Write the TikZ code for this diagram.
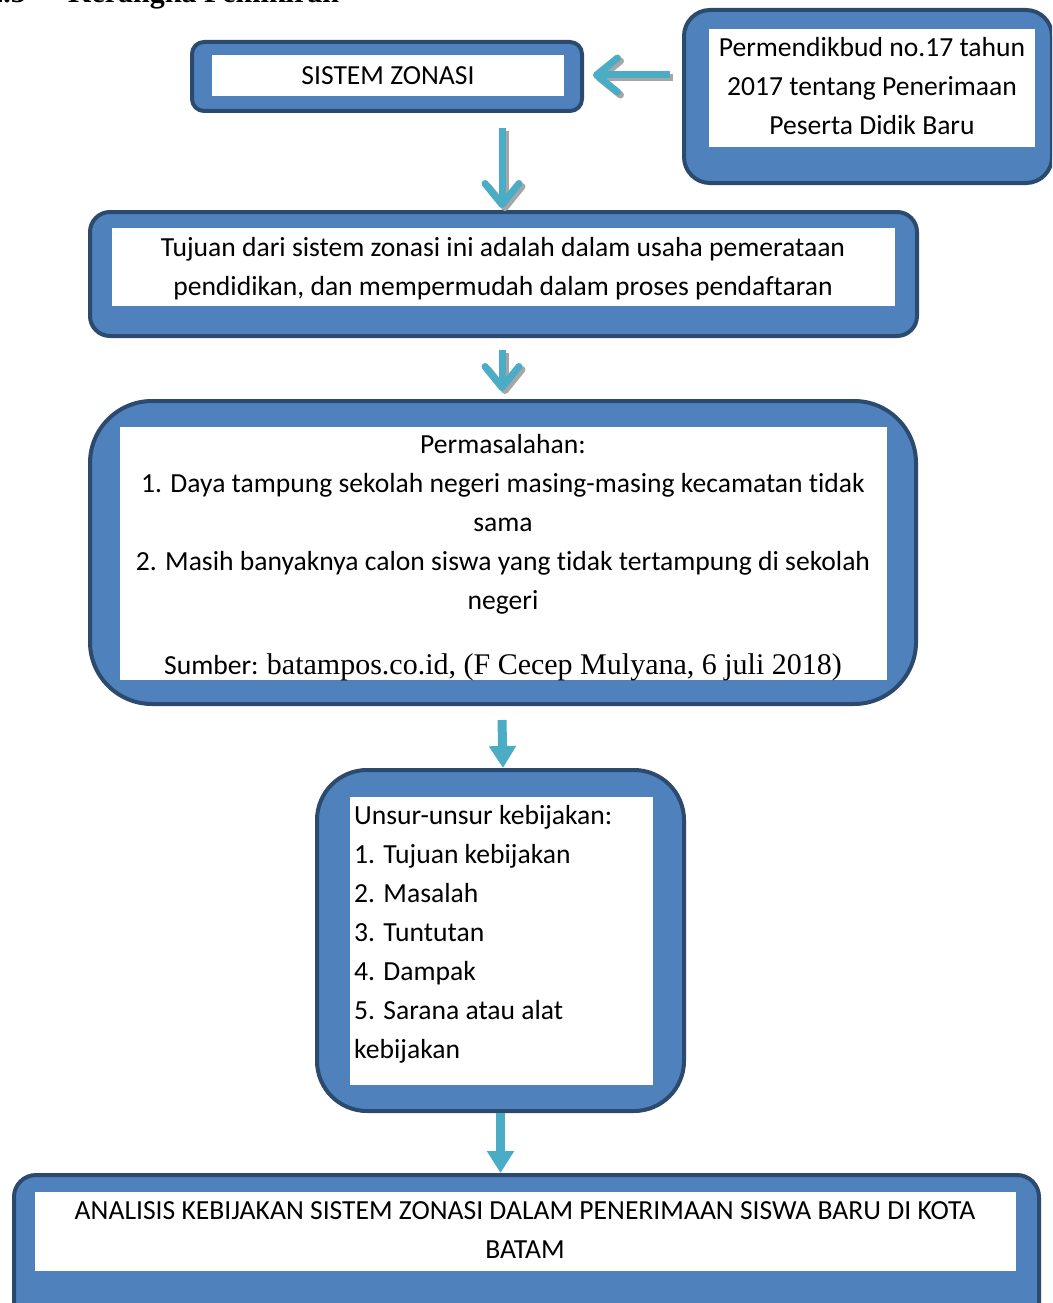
\documentclass[tikz,border=0pt]{standalone}
\usepackage{fontspec}
\setmainfont{Carlito}[Ligatures=NoCommon]
\newfontfamily\tnr{Liberation Serif}
\usetikzlibrary{arrows.meta,calc}
\definecolor{edge}{HTML}{2C4A6E}
\definecolor{boxfill}{HTML}{4F81BD}
\definecolor{arrcyan}{HTML}{4BACC6}
\definecolor{shadowgray}{HTML}{A6A6A6}
\begin{document}
\begin{tikzpicture}[x=1pt,y=-1pt,
  outerbox/.style={draw=edge,fill=boxfill,line width=4pt,inner sep=0pt},
  innerbox/.style={fill=white,inner sep=0pt},
  txt/.style={font=\fontsize{27.6}{39}\selectfont,inner sep=0pt,anchor=north,align=center},
  barb/.style={line width=7pt,-{Straight Barb[length=21pt,width=34pt,line width=7pt,round]}},
  barbcyan/.style={barb,draw=arrcyan},
  barbshadow/.style={barb,draw=shadowgray},
  trisarrow/.style={draw=arrcyan,line width=9pt,-{Triangle[length=22pt,width=26pt]},fill=arrcyan}
]
\useasboundingbox (0,0) rectangle (1052,1303);
\clip (0,0) rectangle (1052,1303);
\fill[white] (0,0) rectangle (1052,1303);

% heading (cut off at top, as in the source page)
\node[font=\fontsize{30}{36}\selectfont\tnr\bfseries,inner sep=0pt,anchor=base east] (hnum) at (26,3) {2.3};
\node[font=\fontsize{30}{36}\selectfont\tnr\bfseries,inner sep=0pt,anchor=base west] (htitle) at (68,3) {Kerangka Pemikiran};

% box 1: SISTEM ZONASI
\node[outerbox,rounded corners=12pt,minimum width=390pt,minimum height=69pt] (b1) at (387,76.5) {};
\node[innerbox,minimum width=352pt,minimum height=41pt] (b1i) at (388,75.5) {};
\node[txt] (t1) at (388,56.7) {\strut SISTEM ZONASI};

% box 2: Permendikbud
\node[outerbox,rounded corners=26pt,minimum width=368pt,minimum height=173pt] (b2) at (868,96.5) {};
\node[innerbox,minimum width=326pt,minimum height=118pt] (b2i) at (872,88) {};
\node[txt] (t2) at (872,28.7) {\strut Permendikbud no.17 tahun\\2017 tentang Penerimaan\\Peserta Didik Baru};

% box 3: Tujuan
\node[outerbox,rounded corners=20pt,minimum width=827pt,minimum height=124pt] (b3) at (503.5,274) {};
\node[innerbox,minimum width=783pt,minimum height=78pt] (b3i) at (503.5,267) {};
\node[txt] (t3) at (503,228.7) {\strut Tujuan dari sistem zonasi ini adalah dalam usaha pemerataan\\pendidikan, dan mempermudah dalam proses pendaftaran};

% box 4: Permasalahan
\node[outerbox,rounded corners=62pt,minimum width=826pt,minimum height=303pt] (b4) at (503,552.5) {};
\node[innerbox,minimum width=767pt,minimum height=253pt] (b4i) at (503.5,553.5) {};
\node[txt] (t4) at (503,425.7) {\strut Permasalahan:\\1. Daya tampung sekolah negeri masing-masing kecamatan tidak\\sama\\2. Masih banyaknya calon siswa yang tidak tertampung di sekolah\\negeri};
\node[txt] (t4s) at (503,646.7) {\strut Sumber: {\tnr\fontsize{30}{39}\selectfont batampos.co.id, (F Cecep Mulyana, 6 juli 2018)}};

% box 5: Unsur-unsur
\node[outerbox,rounded corners=50pt,minimum width=367pt,minimum height=341pt] (b5) at (500.5,940.5) {};
\node[innerbox,minimum width=303pt,minimum height=288pt] (b5i) at (501.5,941) {};
\node[txt,anchor=north west,align=left] (t5) at (354,796.7) {\strut Unsur-unsur kebijakan:\\1. Tujuan kebijakan\\2. Masalah\\3. Tuntutan\\4. Dampak\\5. Sarana atau alat\\kebijakan};

% box 6: Analisis
\node[outerbox,rounded corners=22pt,minimum width=1025pt,minimum height=150pt] (b6) at (526.5,1250) {};
\node[innerbox,minimum width=981pt,minimum height=79pt] (b6i) at (525.5,1231.5) {};
\node[txt] (t6) at (525,1191.7) {\strut ANALISIS KEBIJAKAN SISTEM ZONASI DALAM PENERIMAAN SISWA BARU DI KOTA\\BATAM};

% connectors
\coordinate (l1) at ($(b2.west |- b1.east)+(-12,-1.5)$);
\coordinate (l2) at ($(b1.east)+(9,-1.5)$);
\draw[barbshadow] ($(l1)+(3,3)$) -- ($(l2)+(3,3)$);
\draw[barbcyan] (l1) -- (l2);

\coordinate (d1s) at ($(b3.north |- b1.south)+(-1.5,15)$);
\coordinate (d1e) at ($(b3.north)+(-1.5,-2)$);
\draw[barbshadow] ($(d1s)+(3,3)$) -- ($(d1e)+(3,3)$);
\draw[barbcyan] (d1s) -- (d1e);

\coordinate (d2s) at ($(b3.south)+(-1.5,12)$);
\coordinate (d2e) at ($(b4.north)+(-1,-8)$);
\draw[barbshadow] ($(d2s)+(3,3)$) -- ($(d2e)+(3,3)$);
\draw[barbcyan] (d2s) -- (d2e);

\draw[trisarrow] ($(b4.south)+(-1,14)$) -- (b4.south |- b5.north);
\draw[trisarrow] (b5.south) -- (b5.south |- b6.north);
\end{tikzpicture}
\end{document}
